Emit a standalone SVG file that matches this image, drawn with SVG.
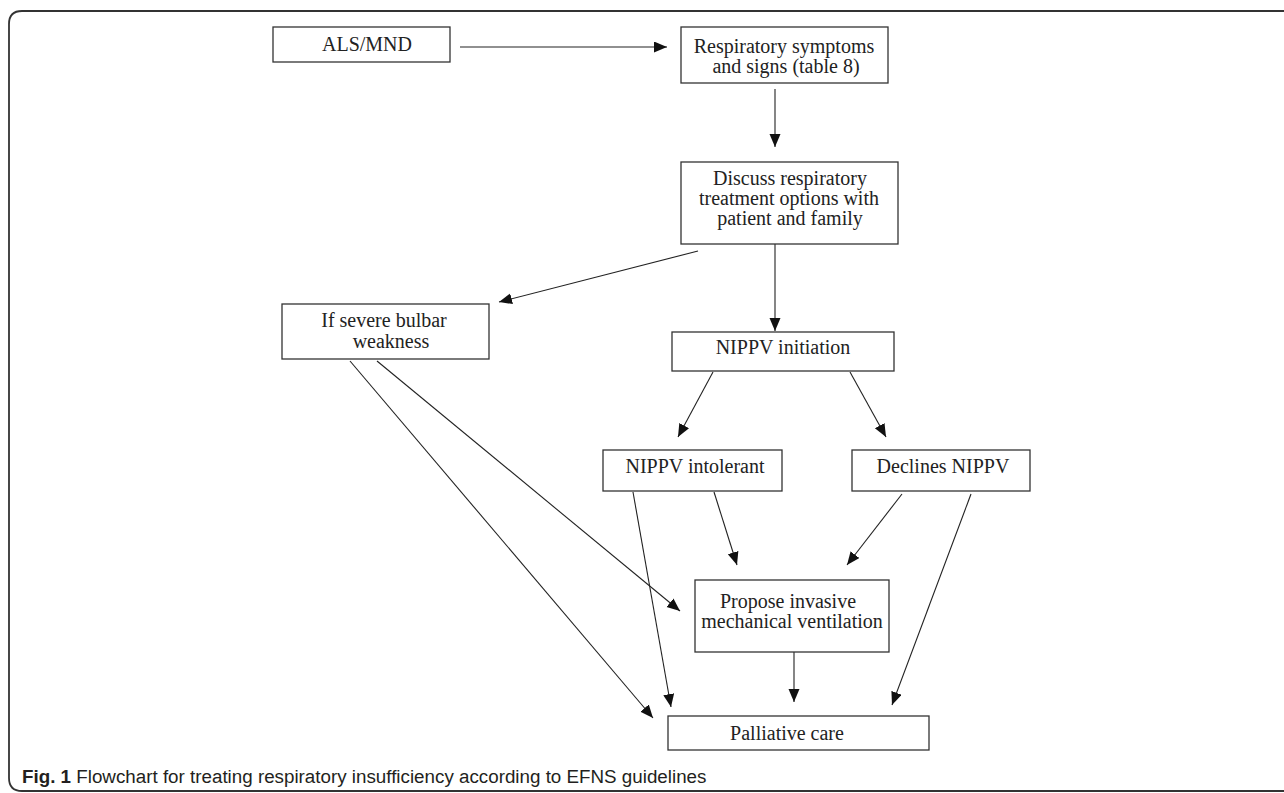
<svg xmlns="http://www.w3.org/2000/svg" width="1284" height="793" viewBox="0 0 1284 793">
<style>
.box{fill:#fff;stroke:#333;stroke-width:1.3}
.t{font-family:"Liberation Serif","Times New Roman",serif;font-size:20px;fill:#222;text-anchor:middle}
.c{stroke:#222;stroke-width:1.1;fill:none;marker-end:url(#ah)}
.cap{font-family:"Liberation Sans Narrow","Liberation Sans",Arial,sans-serif;font-size:18.8px;fill:#231f20}
</style>
<defs>
<marker id="ah" markerUnits="userSpaceOnUse" markerWidth="14" markerHeight="12" refX="13" refY="5.5" orient="auto">
<path d="M0,0 L13,5.5 L0,11 z" fill="#111"/>
</marker>
</defs>
<rect x="0" y="0" width="1284" height="793" fill="#fff"/>
<path d="M1284,11 H22 Q9,11 9,24 V778 Q9,791 22,791 H1284" fill="none" stroke="#333" stroke-width="1.8"/>

<g id="connectors">
<line class="c" x1="460" y1="47" x2="667" y2="47"/>
<line class="c" x1="775" y1="89" x2="775" y2="147"/>
<line class="c" x1="775" y1="244" x2="775" y2="331"/>
<line class="c" x1="698" y1="251" x2="499" y2="302"/>
<line class="c" x1="713" y1="372" x2="678" y2="437"/>
<line class="c" x1="850" y1="372" x2="886" y2="437"/>
<line class="c" x1="714" y1="492" x2="737" y2="565"/>
<line class="c" x1="902" y1="494" x2="847" y2="565"/>
<line class="c" x1="971" y1="494" x2="892" y2="705"/>
<line class="c" x1="633" y1="492" x2="671" y2="707"/>
<line class="c" x1="377" y1="361" x2="680" y2="611"/>
<line class="c" x1="350" y1="361" x2="653" y2="718"/>
<line class="c" x1="794" y1="652" x2="794" y2="702"/>
</g>

<g id="als">
<rect class="box" x="273" y="27" width="177" height="35"/>
<text class="t" x="367" y="51">ALS/MND</text>
</g>
<g id="resp">
<rect class="box" x="681" y="27" width="207" height="56"/>
<text class="t" x="784" y="53">Respiratory symptoms</text>
<text class="t" x="786" y="73">and signs (table 8)</text>
</g>
<g id="discuss">
<rect class="box" x="681" y="162" width="217" height="82"/>
<text class="t" x="790" y="185">Discuss respiratory</text>
<text class="t" x="789" y="205">treatment options with</text>
<text class="t" x="790" y="225">patient and family</text>
</g>
<g id="bulbar">
<rect class="box" x="282" y="304" width="207" height="55"/>
<text class="t" x="384" y="327">If severe bulbar</text>
<text class="t" x="391" y="348">weakness</text>
</g>
<g id="nippv">
<rect class="box" x="672" y="332" width="222" height="39"/>
<text class="t" x="783" y="354">NIPPV initiation</text>
</g>
<g id="intolerant">
<rect class="box" x="603" y="450" width="179" height="41"/>
<text class="t" x="695" y="473">NIPPV intolerant</text>
</g>
<g id="declines">
<rect class="box" x="852" y="450" width="178" height="41"/>
<text class="t" x="943" y="473">Declines NIPPV</text>
</g>
<g id="propose">
<rect class="box" x="695" y="580" width="194" height="72"/>
<text class="t" x="788" y="608">Propose invasive</text>
<text class="t" x="792" y="628">mechanical ventilation</text>
</g>
<g id="palliative">
<rect class="box" x="668" y="716" width="261" height="34"/>
<text class="t" x="787" y="740">Palliative care</text>
</g>

<text class="cap" x="22" y="783"><tspan font-weight="bold">Fig. 1</tspan> Flowchart for treating respiratory insufficiency according to EFNS guidelines</text>
</svg>
